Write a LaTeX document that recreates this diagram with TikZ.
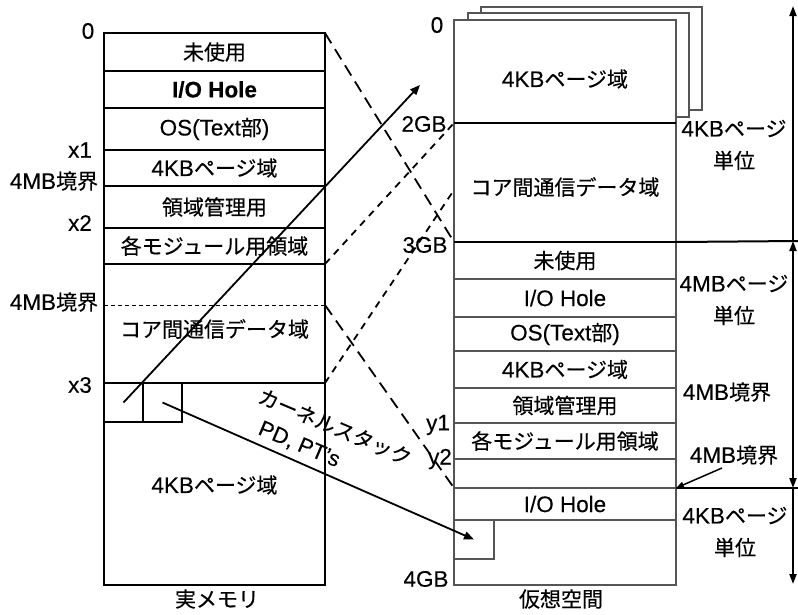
\documentclass[tikz,border=0pt]{standalone}
\usepackage{fontspec}
\setmainfont{Liberation Sans}[Scale=1.07,FakeBold=0.25]
\newfontfamily\jp{Noto Sans CJK JP}[FakeBold=0.35]
\usetikzlibrary{arrows.meta}
\definecolor{rline}{RGB}{85,85,85}
\begin{document}
\begin{tikzpicture}[x=1pt,y=-1pt,
  font=\fontsize{21}{24}\selectfont,
  lrow/.style={draw=black, line width=1.5pt, minimum width=221pt, inner sep=0pt, outer sep=0pt, anchor=north west},
  rrow/.style={draw=rline, line width=1.1pt, minimum width=222pt, inner sep=0pt, outer sep=0pt, anchor=north west},
  page/.style={draw=rline, fill=white, line width=1.1pt, minimum width=221pt, inner sep=0pt, outer sep=0pt, anchor=north west},
  sbox/.style={draw=black, line width=1.5pt, minimum width=39pt, minimum height=39pt, inner sep=0pt, outer sep=0pt, anchor=north west},
  rsbox/.style={draw=rline, line width=1.1pt, minimum width=40pt, minimum height=39pt, inner sep=0pt, outer sep=0pt, anchor=north west},
  lbl/.style={inner sep=0pt},
  two/.style={align=center, inner sep=0pt, font=\fontsize{21}{32}\selectfont},
  longdash/.style={line width=1.8pt, dash pattern=on 12pt off 7pt},
  shortdash/.style={line width=1.8pt, dash pattern=on 7pt off 6pt},
  conn/.style={line width=1.8pt, -{Triangle[length=10pt,width=8pt]}},
  axis/.style={line width=2pt, >={Triangle[length=10pt,width=7pt]}}
]
\useasboundingbox (0,0) rectangle (798,614);

% ---------- left column: real memory ----------
\node[lrow,minimum height=38pt] (la) at (104,33) {\jp 未使用};
\node[lrow,minimum height=37pt] (lb) at (104,71) {\bfseries I/O Hole};
\node[lrow,minimum height=42pt] (lc) at (104,108) {OS(Text{\jp 部})};
\node[lrow,minimum height=36pt] (ld) at (104,150) {4KB{\jp ページ域}};
\node[lrow,minimum height=42pt] (le) at (104,186) {\jp 領域管理用};
\node[lrow,minimum height=36pt] (lf) at (104,228) {\jp 各モジュール用領域};
\node[lrow,minimum height=119pt] (lg) at (104,264) {};
\node[lrow,minimum height=202pt] (lh) at (104,383) {};
\node[lbl] (lgt) at (214.5,329) {\jp コア間通信データ域};
\node[lbl] (lht) at (214.5,485) {4KB{\jp ページ域}};
\node[sbox] (ls1) at (104,383) {};
\node[sbox] (ls2) at (143,383) {};
\coordinate (l4w) at (104,305);
\coordinate (l4e) at (325,305);
\draw[line width=1pt, dash pattern=on 4pt off 3pt] (l4w) -- (l4e);

% left labels
\node[lbl] (n0l) at (88,31) {0};
\node[lbl] (nx1) at (80,150) {x1};
\node[lbl] (nb1) at (54,181) {4MB{\jp 境界}};
\node[lbl] (nx2) at (80,223) {x2};
\node[lbl] (nb2) at (54,302) {4MB{\jp 境界}};
\node[lbl] (nx3) at (80,385) {x3};
\node[lbl] (cap1) at (217,599) {\jp 実メモリ};

% ---------- right column: virtual space ----------
\node[page,minimum height=103pt] (pB) at (481,7) {};
\node[page,minimum height=104pt] (pA) at (468,13) {};
\node[rrow,fill=white,minimum height=103pt] (ra) at (454,20) {};
\node[rrow,minimum height=119pt] (rb) at (454,123) {};
\node[rrow,minimum height=37pt] (rc) at (454,242) {\jp 未使用};
\node[rrow,minimum height=38pt] (rd) at (454,279) {I/O Hole};
\node[rrow,minimum height=34pt] (re) at (454,317) {OS(Text{\jp 部})};
\node[rrow,minimum height=37pt] (rf) at (454,351) {4KB{\jp ページ域}};
\node[rrow,minimum height=35pt] (rg) at (454,388) {\jp 領域管理用};
\node[rrow,minimum height=36pt] (rh) at (454,423) {\jp 各モジュール用領域};
\node[rrow,minimum height=29pt] (ri) at (454,459) {};
\node[rrow,minimum height=32pt] (rj) at (454,488) {I/O Hole};
\node[rrow,minimum height=65pt] (rk) at (454,520) {};
\node[rsbox] (rs) at (454,520) {};
\node[lbl] (rat) at (565,79) {4KB{\jp ページ域}};
\node[lbl] (rbt) at (565,187) {\jp コア間通信データ域};
\draw[line width=1.5pt] (rb.north west) -- (rb.north east);
\draw[line width=1.5pt] (rc.north west) -- (rc.north east);

% right labels
\node[lbl] (n0r) at (437,25) {0};
\node[lbl] (n2g) at (424,124) {2GB};
\node[lbl] (n3g) at (425,245) {3GB};
\node[lbl] (ny1) at (438,425) {y1};
\node[lbl] (ny2) at (440,459) {y2};
\node[lbl] (n4g) at (426,579) {4GB};
\node[lbl] (cap2) at (561,599) {\jp 仮想空間};

% ---------- mapping lines ----------
\coordinate (rbx) at (454,190);
\coordinate (t1) at (420,85);
\draw[longdash] (la.north east) -- (rc.north west);
\draw[longdash] (l4e) -- (rj.north west);
\draw[shortdash] (lg.north east) -- (rb.north west);
\draw[shortdash] (lh.north east) -- (rbx);
\draw[conn] (ls1.center) -- (t1);
\draw[conn] (ls2.center) -- (rs.center);
\node[inner sep=0pt, align=left, rotate=-23, font=\fontsize{20.5}{29}\selectfont] (ks) at (329,441)
  {{\jp カーネルスタック}\\\hspace*{13pt}PD, PT’s};

% ---------- right axis ----------
\coordinate (ax0) at (793,6);
\coordinate (ax1) at (793,241);
\coordinate (ax2) at (793,488);
\coordinate (ax3) at (793,584);
\coordinate (hx1) at (798,241);
\coordinate (hx2) at (798,488);
\draw[axis] (rc.north east) -- (hx1);
\draw[axis] (rj.north east) -- (hx2);
\draw[axis, ->] (ax1) -- (ax0);
\draw[axis, <->] (ax1) -- (ax2);
\draw[axis, ->] (ax2) -- (ax3);

\node[two] (u1) at (734,145) {4KB{\jp ページ}\\{\jp 単位}};
\node[two] (u2) at (734,300) {4MB{\jp ページ}\\{\jp 単位}};
\node[lbl] (m4a) at (727,392) {4MB{\jp 境界}};
\node[lbl] (m4b) at (734,455) {4MB{\jp 境界}};
\node[two] (u3) at (735,532) {4KB{\jp ページ}\\{\jp 単位}};
\coordinate (m4s) at (722,468);
\draw[line width=1.5pt, -{Triangle[length=8pt,width=6pt]}] (m4s) -- (rj.north east);
\end{tikzpicture}
\end{document}
